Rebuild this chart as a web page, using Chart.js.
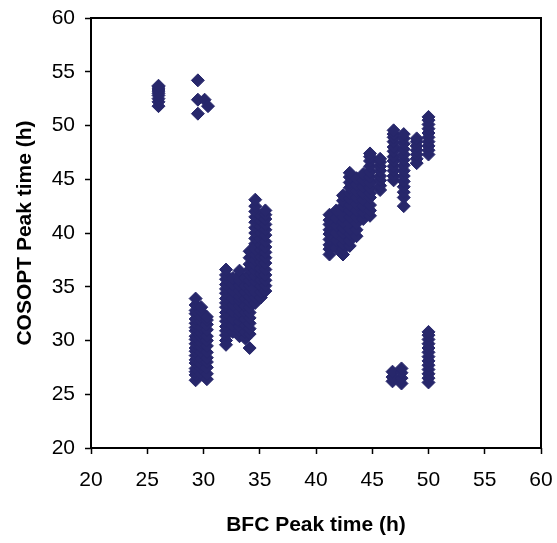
<!DOCTYPE html>
<html>
<head>
<meta charset="utf-8">
<script src="https://cdn.jsdelivr.net/npm/chart.js@4/dist/chart.umd.min.js"></script>
<style>
  body { margin: 0; background: #fff; }
</style>
</head>
<body>
<canvas id="myChart" width="557" height="543"></canvas>
<script>
const lateHighBfc = [26.0, 29.5, 30.1, 30.4];
const lateHighCosopt = [
    [51.8, 52.2, 52.5, 52.8, 53.0, 53.2, 53.4, 53.6, 53.7],
    [51.1, 52.4, 54.2],
    [52.4],
    [51.8]
];

const earlyLowBfc = [29.3, 29.8, 30.3];
const earlyLowCosopt = [
    [26.3, 26.8, 27.1, 27.4, 27.9, 28.2, 28.6, 29.0, 29.3, 29.7, 30.1, 30.4, 30.9, 31.2, 31.6, 32.0, 32.5, 32.8, 33.3, 33.9],
    [26.9, 27.4, 27.8, 28.3, 28.9, 29.4, 29.8, 30.3, 30.7, 31.2, 31.8, 32.2, 32.7, 33.1],
    [26.4, 26.9, 27.5, 28.0, 28.4, 28.9, 29.5, 30.0, 30.4, 31.0, 31.5, 31.9, 32.2]
];

const midRiseBfc = [32.0, 32.6, 33.2, 33.7, 34.1, 34.6, 35.1, 35.5];
const midRiseCosopt = [
    [29.6, 30.0, 30.5, 30.9, 31.3, 31.8, 32.2, 32.6, 33.1, 33.5, 33.9, 34.4, 34.8, 35.2, 35.7, 36.1, 36.6],
    [30.8, 31.4, 32.0, 32.7, 33.3, 33.9, 34.6, 35.2, 35.8],
    [30.4, 30.9, 31.3, 31.8, 32.3, 32.7, 33.2, 33.7, 34.1, 34.6, 35.1, 35.6, 36.0, 36.5],
    [30.2, 30.8, 31.4, 32.0, 32.6, 33.2, 33.9, 34.5, 35.1, 35.8],
    [29.3, 30.6, 31.1, 31.6, 32.1, 32.6, 33.1, 33.6, 34.1, 34.6, 35.1, 35.6, 36.1, 36.6, 37.1, 37.7, 38.3],
    [33.5, 34.0, 34.5, 35.0, 35.5, 36.0, 36.5, 37.0, 37.5, 38.0, 38.5, 39.0, 39.5, 40.0, 40.5, 41.0, 41.5, 42.0, 42.5, 43.1],
    [34.0, 34.5, 35.1, 35.6, 36.2, 36.7, 37.3, 37.8, 38.4, 38.9, 39.5, 40.0, 40.6, 41.1, 41.6],
    [34.6, 35.1, 35.6, 36.1, 36.6, 37.2, 37.7, 38.2, 38.7, 39.2, 39.8, 40.3, 40.8, 41.3, 41.7, 42.1]
];

const lateRiseBfc = [41.2, 41.8, 42.4, 43.0, 43.6, 44.2, 44.8, 45.7, 46.9, 47.8, 48.95, 50.0];
const lateRiseCosopt = [
    [38.0, 38.5, 38.9, 39.4, 39.9, 40.3, 40.8, 41.2, 41.7],
    [38.6, 39.3, 40.0, 40.7, 41.4, 42.1],
    [38.0, 38.5, 39.0, 39.5, 40.0, 40.5, 41.0, 41.5, 42.0, 42.5, 43.0, 43.5],
    [38.8, 39.3, 39.9, 40.4, 41.0, 41.5, 42.1, 42.6, 43.2, 43.7, 44.2, 44.7, 45.2, 45.6],
    [39.7, 40.3, 40.9, 41.5, 42.1, 42.7, 43.3, 43.9, 44.5, 45.1],
    [41.3, 41.9, 42.5, 43.1, 43.7, 44.3, 44.9, 45.5],
    [41.6, 42.1, 42.6, 43.3, 43.7, 44.2, 44.7, 45.2, 45.7, 46.2, 46.7, 47.1, 47.4],
    [44.0, 44.4, 44.9, 45.3, 45.8, 46.2, 46.6, 46.9],
    [44.9, 45.3, 45.8, 46.2, 46.7, 47.1, 47.6, 48.0, 48.5, 48.9, 49.2, 49.55],
    [42.5, 43.3, 43.8, 44.3, 44.8, 45.3, 45.8, 46.3, 46.8, 47.3, 47.8, 48.3, 48.8, 49.2],
    [46.5, 46.9, 47.3, 47.7, 48.1, 48.5, 48.8],
    [47.3, 47.7, 48.1, 48.5, 48.9, 49.3, 49.7, 50.1, 50.5, 50.8]
];

const lowLateBfc = [46.8, 47.6, 50.0];
const lowLateCosopt = [
    [26.2, 26.6, 27.1],
    [26.0, 26.5, 27.0, 27.4],
    [26.1, 26.5, 26.9, 27.3, 27.7, 28.1, 28.5, 28.9, 29.3, 29.7, 30.1, 30.5, 30.8]
];

const axisTicks = [20, 25, 30, 35, 40, 45, 50, 55, 60];

const pointsFrom = (xs, yLists) => {
    const pts = [];
    xs.forEach((x, i) => {
        yLists[i].forEach(y => pts.push({ x: x, y: y }));
    });
    return pts;
};

const points = [].concat(
    pointsFrom(lateHighBfc, lateHighCosopt),
    pointsFrom(earlyLowBfc, earlyLowCosopt),
    pointsFrom(midRiseBfc, midRiseCosopt),
    pointsFrom(lateRiseBfc, lateRiseCosopt),
    pointsFrom(lowLateBfc, lowLateCosopt)
);

const markerColor = '#27276B';
const fontFamily = "'Liberation Sans', Arial, sans-serif";

// box around the plot area
const frame = {
    id: 'frame',
    afterDraw(chart) {
        const { ctx, chartArea } = chart;
        ctx.save();
        ctx.strokeStyle = '#000';
        ctx.lineWidth = 2;
        ctx.strokeRect(chartArea.left, chartArea.top,
            chartArea.right - chartArea.left, chartArea.bottom - chartArea.top);
        ctx.restore();
    }
};

const tickSetup = (scale) => {
    scale.ticks = axisTicks.map(v => ({ value: v }));
};

const config = {
    type: 'scatter',
    data: {
        datasets: [{
            label: 'Peak time',
            data: points,
            pointStyle: 'rectRot',
            radius: 6.5,
            borderWidth: 1,
            backgroundColor: markerColor,
            borderColor: markerColor
        }]
    },
    options: {
        responsive: false,
        animation: false,
        devicePixelRatio: 1,
        events: [],
        layout: {
            padding: { left: 0, top: 18, right: 16, bottom: 0 }
        },
        scales: {
            x: {
                type: 'linear',
                min: 20,
                max: 60,
                afterBuildTicks: tickSetup,
                afterFit: (scale) => {
                    scale.height = 95;
                    scale.paddingLeft = 0;
                    scale.paddingRight = 0;
                },
                ticks: {
                    color: '#000',
                    padding: 14,
                    font: { family: fontFamily, size: 21 }
                },
                grid: {
                    drawOnChartArea: false,
                    drawTicks: true,
                    tickLength: 6,
                    tickWidth: 1.5,
                    tickColor: '#000'
                },
                border: { display: false },
                title: {
                    display: true,
                    text: 'BFC Peak time (h)',
                    color: '#000',
                    font: { family: fontFamily, size: 21, weight: 'bold' },
                    padding: { top: 0, bottom: 5 }
                }
            },
            y: {
                type: 'linear',
                min: 20,
                max: 60,
                afterBuildTicks: tickSetup,
                afterFit: (scale) => {
                    scale.width = 91;
                    scale.paddingTop = 0;
                    scale.paddingBottom = 0;
                },
                ticks: {
                    color: '#000',
                    padding: 10,
                    font: { family: fontFamily, size: 21 }
                },
                grid: {
                    drawOnChartArea: false,
                    drawTicks: true,
                    tickLength: 6,
                    tickWidth: 1.5,
                    tickColor: '#000'
                },
                border: { display: false },
                title: {
                    display: true,
                    text: 'COSOPT Peak time (h)',
                    color: '#000',
                    font: { family: fontFamily, size: 21, weight: 'bold' },
                    padding: { top: 13, bottom: 0 }
                }
            }
        },
        plugins: {
            legend: { display: false },
            tooltip: { enabled: false }
        }
    },
    plugins: [frame]
};

var myChart = new Chart(
    document.getElementById('myChart'),
    config
);
</script>
</body>
</html>
